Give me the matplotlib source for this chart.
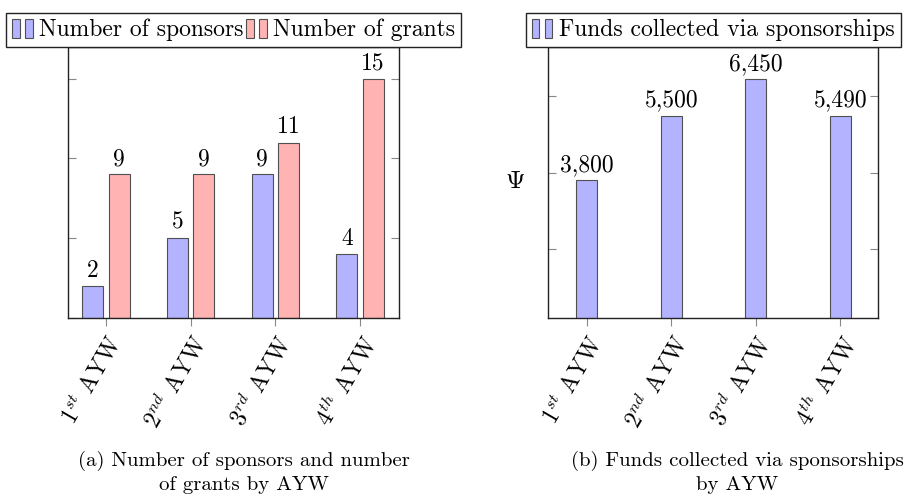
import numpy as np
import matplotlib
matplotlib.use('Agg')
import matplotlib.pyplot as plt
from matplotlib.legend_handler import HandlerBase
from matplotlib.patches import Rectangle

plt.rcParams['font.family'] = ['cmr10', 'DejaVu Serif']
plt.rcParams['mathtext.fontset'] = 'cm'
plt.rcParams['axes.formatter.use_mathtext'] = True

# data
years = ['$1^{st}$ AYW', '$2^{nd}$ AYW', '$3^{rd}$ AYW', '$4^{th}$ AYW']
sponsors = [2, 5, 9, 4]
grants = [9, 9, 11, 15]
funds = [3800, 5500, 6450, 5490]

blue = '#b3b3ff'
red = '#ffb3b3'
edge = '#505050'
fs = 17


class TwoBars(HandlerBase):
    # pgfplots style ybar legend entry: two small bars
    def create_artists(self, legend, orig_handle, xdescent, ydescent,
                       width, height, fontsize, trans):
        fc = orig_handle.patches[0].get_facecolor()
        arts = []
        w = width * 0.32
        for x0 in (0.0, width * 0.55):
            r = Rectangle((x0 - xdescent, -ydescent - 0.1 * height), w, height * 1.15,
                          facecolor=fc, edgecolor=edge, lw=0.8, transform=trans)
            arts.append(r)
        return arts


def style_axis(ax):
    for s in ax.spines.values():
        s.set_linewidth(1.0)
        s.set_color('#222222')
    ax.tick_params(axis='y', direction='in', left=True, right=True, length=6,
                   color='#888888', labelleft=False)
    ax.tick_params(axis='x', direction='out', length=6, color='#888888', labelsize=fs,
                   pad=4)


fig = plt.figure(figsize=(9.13, 5), dpi=100)
ax1 = fig.add_axes([68.3 / 913, 1 - 317.7 / 500, 331 / 913, 270.7 / 500])
ax2 = fig.add_axes([548.3 / 913, 1 - 317.7 / 500, 330 / 913, 270.7 / 500])

x = np.arange(len(years))

# (a) sponsors and grants
b1 = ax1.bar(x - 0.155, sponsors, 0.25, color=blue, edgecolor=edge, lw=0.8,
             label='Number of sponsors')
b2 = ax1.bar(x + 0.155, grants, 0.25, color=red, edgecolor=edge, lw=0.8,
             label='Number of grants')
for rect, v in zip(list(b1) + list(b2), sponsors + grants):
    ax1.annotate(str(v), (rect.get_x() + rect.get_width() / 2, rect.get_height()),
                 xytext=(0, 3), textcoords='offset points', ha='center', va='bottom',
                 fontsize=fs)
ax1.set_xlim(-0.445, 3.464)
ax1.set_ylim(0, 17)
ax1.set_yticks([0, 5, 10, 15])
ax1.set_xticks(x)
ax1.set_xticklabels(years, rotation=60, ha='right', va='top', rotation_mode='anchor')
style_axis(ax1)
ax1.legend(handler_map={b1: TwoBars(), b2: TwoBars()}, handles=[b1, b2],
           loc='lower center', bbox_to_anchor=(0.5, 1.0), ncol=2, fontsize=fs,
           fancybox=False, edgecolor='#222222', framealpha=1, borderaxespad=0,
           handlelength=1.0, handletextpad=0.15, columnspacing=0.1,
           borderpad=0.25)

# (b) funds
b3 = ax2.bar(x, funds, 0.25, color=blue, edgecolor=edge, lw=0.8,
             label='Funds collected via sponsorships')
for rect, v in zip(b3, funds):
    ax2.annotate(f'{v:,}', (rect.get_x() + rect.get_width() / 2, rect.get_height()),
                 xytext=(0, 3), textcoords='offset points', ha='center', va='bottom',
                 fontsize=fs)
ax2.set_xlim(-0.454, 3.45)
ax2.set_ylim(190, 7300)
ax2.set_yticks([2000, 4000, 6000])
ax2.set_xticks(x)
ax2.set_xticklabels(years, rotation=60, ha='right', va='top', rotation_mode='anchor')
style_axis(ax2)
ax2.set_ylabel(r'$\Psi$', rotation=0, fontsize=18, labelpad=24, va='center')
ax2.legend(handler_map={b3: TwoBars()}, handles=[b3],
           loc='lower center', bbox_to_anchor=(0.5, 1.0), fontsize=fs,
           fancybox=False, edgecolor='#222222', framealpha=1, borderaxespad=0,
           handlelength=1.0, handletextpad=0.15, borderpad=0.25)

# sub captions
cfs = 15
fig.text(244 / 913, 1 - 461 / 500, '(a) Number of sponsors and number',
         ha='center', va='center', fontsize=cfs)
fig.text(244 / 913, 1 - 485 / 500, 'of grants by AYW',
         ha='center', va='center', fontsize=cfs)
fig.text(737 / 913, 1 - 461 / 500, '(b) Funds collected via sponsorships',
         ha='center', va='center', fontsize=cfs)
fig.text(737 / 913, 1 - 485 / 500, 'by AYW',
         ha='center', va='center', fontsize=cfs)

fig.savefig('out.png', dpi=100)
